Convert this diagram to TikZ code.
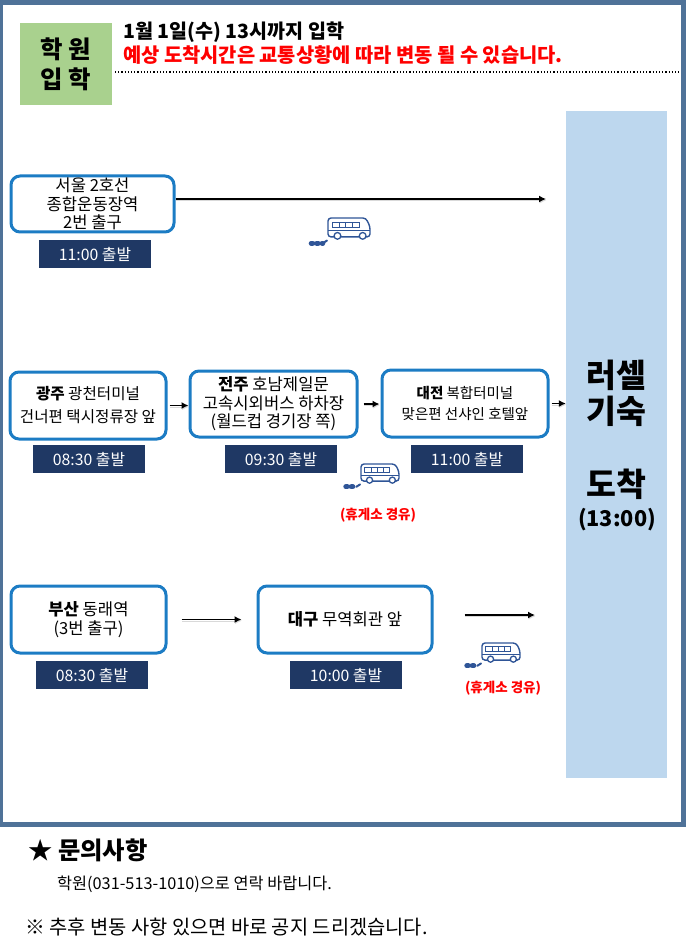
\documentclass[tikz,border=0pt]{standalone}
\usepackage{fontspec}
\setmainfont{Noto Sans CJK KR}
\usetikzlibrary{arrows.meta,positioning}

\definecolor{FrameBlue}{HTML}{4F7298}
\definecolor{LeafGreen}{HTML}{A9D18E}
\definecolor{SkyBlue}{HTML}{BDD7EE}
\definecolor{EdgeBlue}{HTML}{1C7CC4}
\definecolor{TagNavy}{HTML}{1F3864}
\definecolor{BusBlue}{HTML}{2F5597}

\newcommand{\BusIcon}[3]{
	\begin{scope}[shift={(#1,#2)}, scale=#3, BusBlue]
		\draw [line width=1.4, rounded corners=3, fill=white] (0,18) -- (0,0) -- (36,0) -- (40,8) -- (40,18) -- cycle;
		\draw [line width=1] (4,4) rectangle (30,9);
		\draw [line width=0.9] (10.5,4) -- (10.5,9) (17,4) -- (17,9) (23.5,4) -- (23.5,9);
		\draw [line width=0.8] (0,12) -- (40,12);
		\draw [line width=1.3, fill=white] (9,17) circle (3.2);
		\draw [line width=1.3, fill=white] (33,17) circle (3.2);
		\draw [line width=5, line cap=round, dash pattern=on 1.5 off 4] (-16,24) -- (-5,24);
		\draw [line width=2, line cap=round] (-5,24) -- (-1,21.5);
	\end{scope}
}

\begin{document}
\begin{tikzpicture}[x=1pt, y=-1pt]
	\tikzstyle{Stop}	= [rectangle, draw=EdgeBlue, line width=3, rounded corners=9, fill=white, align=center, font=\fontsize{16.6}{18.5}\selectfont, inner sep=0pt]
	\tikzstyle{Depart}	= [rectangle, fill=TagNavy, text=white, minimum width=112, minimum height=28, inner sep=0pt, font=\fontsize{15.8}{18}\selectfont]
	\tikzstyle{Rest}	= [text=red, font=\bfseries\fontsize{13.5}{15}\selectfont, inner sep=0pt]
	\tikzstyle{Go}		= [-{Latex[length=7, width=7]}, black, line width=1.8, preaction={draw=black!15, transform canvas={xshift=0.6pt, yshift=-1.2pt}}]
	\tikzstyle{Dorm}	= [inner sep=0pt, font=\bfseries\fontsize{32.5}{36}\selectfont]

	\useasboundingbox (0,0) rectangle (686,949);
	\node (frame) at (342,413.25) [rectangle, draw=FrameBlue, line width=5, minimum width=683, minimum height=821.5, inner sep=0pt] {};

	\node (enter) at (66,64) [rectangle, fill=LeafGreen, minimum width=92, minimum height=82, inner sep=0pt, align=center, font=\bfseries\fontsize{24.4}{30}\selectfont] {학 원\\입 학};
	\node (when) at (123,32) [anchor=west, inner sep=0pt, font=\bfseries\fontsize{19.6}{22}\selectfont] {1월 1일(수) 13시까지 입학};
	\node (note) at (123,55) [anchor=west, inner sep=0pt, text=red, font=\bfseries\fontsize{19.8}{22}\selectfont] {예상 도착시간은 교통상황에 따라 변동 될 수 있습니다.};
	\coordinate (ruleL) at (115,72);
	\coordinate (ruleR) at (681,72);
	\draw [black, line width=1.2, dotted] (ruleL) to (ruleR);

	\node (dorm) at (616.5,444.5) [rectangle, fill=SkyBlue, minimum width=101, minimum height=667, inner sep=0pt] {};
	\node (dormA) at (616.5,375) [Dorm] {러셀};
	\node (dormB) at (616.5,411) [Dorm] {기숙};
	\node (dormC) at (616.5,484) [Dorm] {도착};
	\node (dormT) at (617,520) [inner sep=0pt, font=\bfseries\fontsize{21.7}{26}\selectfont] {(13:00)};

	\node (seoul) at (92.5,204) [Stop, minimum width=163, minimum height=56] {서울 2호선\\종합운동장역\\2번 출구};
	\node (seoulT) at (95,254) [Depart] {11:00 출발};
	\coordinate (seoulEnd) at (546,199);
	\draw [Go] (seoul.east |- seoulEnd) to (seoulEnd);
	\BusIcon{328}{218}{1.05}

	\node (gwangju) at (88,405.5) [Stop, minimum width=156, minimum height=67, font=\fontsize{15.6}{23}\selectfont] {\textbf{광주} 광천터미널\\건너편 택시정류장 앞};
	\node (jeonju) at (273.5,404) [Stop, minimum width=167, minimum height=66] {\textbf{전주} 호남제일문\\고속시외버스 하차장\\(월드컵 경기장 쪽)};
	\node (daejeon) at (465,403.5) [Stop, minimum width=166, minimum height=67, font=\fontsize{14.5}{21}\selectfont] {\textbf{대전} 복합터미널\\맞은편 선샤인 호텔앞};
	\node (gwangjuT) at (89,459) [Depart] {08:30 출발};
	\node (jeonjuT) at (281,459) [Depart] {09:30 출발};
	\node (daejeonT) at (467,459) [Depart] {11:00 출발};
	\draw [Go, shorten <=2] (gwangju.east) to (jeonju.west |- gwangju.east);
	\draw [Go, shorten <=5, shorten >=1] (jeonju.east) to (daejeon.west |- jeonju.east);
	\draw [Go, shorten <=2] (daejeon.east) to (dorm.west |- daejeon.east);
	\BusIcon{361}{464}{0.95}
	\node (restA) at (378,515) [Rest] {(휴게소 경유)};

	\node (busan) at (88.5,619.5) [Stop, minimum width=155, minimum height=67] {\textbf{부산} 동래역\\(3번 출구)};
	\node (daegu) at (345,619.5) [Stop, minimum width=174, minimum height=67] {\textbf{대구} 무역회관 앞};
	\node (busanT) at (92,675) [Depart] {08:30 출발};
	\node (daeguT) at (346,675) [Depart] {10:00 출발};
	\coordinate (daeguEnd) at (535,615);
	\draw [Go, shorten <=14, shorten >=15] (busan.east) to (daegu.west);
	\draw [Go, shorten <=31] (daegu.east |- daeguEnd) to (daeguEnd);
	\BusIcon{482}{643}{0.95}
	\node (restB) at (503,688) [Rest] {(휴게소 경유)};

	\node (askHead) at (28,850) [anchor=west, inner sep=0pt, font=\bfseries\fontsize{24.3}{28}\selectfont] {★ 문의사항};
	\node (askLine) at (57,884) [anchor=west, inner sep=0pt, font=\fontsize{16.3}{19}\selectfont] {학원(031-513-1010)으로 연락 바랍니다.};
	\node (later) at (25,927) [anchor=west, inner sep=0pt, font=\fontsize{19.8}{23}\selectfont] {※ 추후 변동 사항 있으면 바로 공지 드리겠습니다.};
\end{tikzpicture}
\end{document}
